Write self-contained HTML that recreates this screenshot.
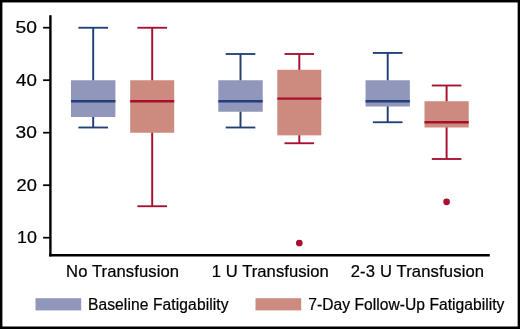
<!DOCTYPE html>
<html>
<head>
<meta charset="utf-8">
<title>Fatigability box plot</title>
<style>
  html, body { margin: 0; padding: 0; background: #ffffff; }
  body { width: 520px; height: 329px; overflow: hidden; }
  svg { display: block; will-change: transform; }
  text { font-family: "Liberation Sans", sans-serif; fill: #000000; stroke: #000000; stroke-width: 0.22px; }
</style>
</head>
<body>
<svg width="520" height="329" viewBox="0 0 520 329">
  <!-- background + outer frame -->
  <rect x="0" y="0" width="520" height="329" fill="#ffffff"/>
  <rect x="0" y="0" width="520" height="2.45" fill="#000"/>
  <rect x="0" y="0" width="2.4" height="329" fill="#000"/>
  <rect x="517.65" y="0" width="2.35" height="329" fill="#000"/>
  <rect x="0" y="326.5" width="520" height="2.5" fill="#000"/>

  <!-- axes -->
  <rect x="49.2" y="15.2" width="2.4" height="241.2" fill="#000"/>
  <rect x="49.2" y="254.0" width="440.6" height="2.5" fill="#000"/>

  <!-- y ticks -->
  <g stroke="#000" stroke-width="1.75">
    <line x1="43.1" x2="50" y1="27.70" y2="27.70"/>
    <line x1="43.1" x2="50" y1="80.20" y2="80.20"/>
    <line x1="43.1" x2="50" y1="132.70" y2="132.70"/>
    <line x1="43.1" x2="50" y1="185.20" y2="185.20"/>
    <line x1="43.1" x2="50" y1="237.70" y2="237.70"/>
  </g>
  <g font-size="16.6" text-anchor="end">
    <text transform="translate(36.9,33.05) scale(1.16,1.03)" x="0" y="0">50</text>
    <text transform="translate(36.9,85.55) scale(1.13,1.03)" x="0" y="0">40</text>
    <text transform="translate(36.9,138.05) scale(1.155,1.03)" x="0" y="0">30</text>
    <text transform="translate(36.9,190.55) scale(1.1,1.03)" x="0" y="0">20</text>
    <text transform="translate(36.9,243.05) scale(1.075,1.03)" x="0" y="0">10</text>
  </g>

  <!-- No Transfusion -->
  <g stroke="#223f78" fill="none">
    <line x1="93.2" x2="93.2" y1="27.75" y2="80.75" stroke-width="1.95"/>
    <line x1="93.2" x2="93.2" y1="116.50" y2="127.50" stroke-width="1.95"/>
    <line x1="78.40" x2="108.00" y1="27.75" y2="27.75" stroke-width="1.85"/>
    <line x1="78.40" x2="108.00" y1="127.50" y2="127.50" stroke-width="1.85"/>
  </g>
  <rect x="71.00" y="80.25" width="44.40" height="36.75" fill="#9097bb"/>
  <line x1="71.00" x2="115.40" y1="101.25" y2="101.25" stroke="#223f78" stroke-width="2.4"/>
  <g stroke="#a80f2e" fill="none">
    <line x1="152.2" x2="152.2" y1="27.75" y2="80.75" stroke-width="1.95"/>
    <line x1="152.2" x2="152.2" y1="132.25" y2="206.25" stroke-width="1.95"/>
    <line x1="137.40" x2="167.00" y1="27.75" y2="27.75" stroke-width="1.85"/>
    <line x1="137.40" x2="167.00" y1="206.25" y2="206.25" stroke-width="1.85"/>
  </g>
  <rect x="130.20" y="80.25" width="44.00" height="52.50" fill="#cd8b7f"/>
  <line x1="130.20" x2="174.20" y1="101.25" y2="101.25" stroke="#a80f2e" stroke-width="2.4"/>
  <!-- 1 U Transfusion -->
  <g stroke="#223f78" fill="none">
    <line x1="240.5" x2="240.5" y1="54.00" y2="80.75" stroke-width="1.95"/>
    <line x1="240.5" x2="240.5" y1="111.25" y2="127.50" stroke-width="1.95"/>
    <line x1="225.70" x2="255.30" y1="54.00" y2="54.00" stroke-width="1.85"/>
    <line x1="225.70" x2="255.30" y1="127.50" y2="127.50" stroke-width="1.85"/>
  </g>
  <rect x="218.30" y="80.25" width="44.40" height="31.50" fill="#9097bb"/>
  <line x1="218.30" x2="262.70" y1="101.25" y2="101.25" stroke="#223f78" stroke-width="2.4"/>
  <g stroke="#a80f2e" fill="none">
    <line x1="299.3" x2="299.3" y1="54.00" y2="70.25" stroke-width="1.95"/>
    <line x1="299.3" x2="299.3" y1="134.88" y2="143.25" stroke-width="1.95"/>
    <line x1="284.50" x2="314.10" y1="54.00" y2="54.00" stroke-width="1.85"/>
    <line x1="284.50" x2="314.10" y1="143.25" y2="143.25" stroke-width="1.85"/>
  </g>
  <rect x="277.30" y="69.75" width="44.00" height="65.62" fill="#cd8b7f"/>
  <line x1="277.30" x2="321.30" y1="98.62" y2="98.62" stroke="#a80f2e" stroke-width="2.4"/>
  <circle cx="299.30" cy="243.00" r="3.35" fill="#a80f2e"/>
  <!-- 2-3 U Transfusion -->
  <g stroke="#223f78" fill="none">
    <line x1="387.7" x2="387.7" y1="52.95" y2="80.75" stroke-width="1.95"/>
    <line x1="387.7" x2="387.7" y1="106.00" y2="122.25" stroke-width="1.95"/>
    <line x1="372.90" x2="402.50" y1="52.95" y2="52.95" stroke-width="1.85"/>
    <line x1="372.90" x2="402.50" y1="122.25" y2="122.25" stroke-width="1.85"/>
  </g>
  <rect x="365.55" y="80.25" width="44.30" height="26.25" fill="#9097bb"/>
  <line x1="365.55" x2="409.85" y1="101.25" y2="101.25" stroke="#223f78" stroke-width="2.4"/>
  <g stroke="#a80f2e" fill="none">
    <line x1="446.6" x2="446.6" y1="85.50" y2="101.75" stroke-width="1.95"/>
    <line x1="446.6" x2="446.6" y1="127.00" y2="159.00" stroke-width="1.95"/>
    <line x1="431.80" x2="461.40" y1="85.50" y2="85.50" stroke-width="1.85"/>
    <line x1="431.80" x2="461.40" y1="159.00" y2="159.00" stroke-width="1.85"/>
  </g>
  <rect x="424.50" y="101.25" width="44.20" height="26.25" fill="#cd8b7f"/>
  <line x1="424.50" x2="468.70" y1="122.25" y2="122.25" stroke="#a80f2e" stroke-width="2.4"/>
  <circle cx="446.60" cy="201.79" r="3.35" fill="#a80f2e"/>

  <!-- x labels -->
  <g font-size="16.6" text-anchor="middle">
    <text x="122.6" y="277" letter-spacing="0.1">No Transfusion</text>
    <text x="270.35" y="277" letter-spacing="0.06">1 U Transfusion</text>
    <text x="417.5" y="277" letter-spacing="0.15">2-3 U Transfusion</text>
  </g>

  <!-- legend -->
  <rect x="35.5" y="298.2" width="45.7" height="12.2" fill="#9097bb"/>
  <text x="87.9" y="309.55" font-size="15.6" letter-spacing="0.1">Baseline Fatigability</text>
  <rect x="255.5" y="298.2" width="45.7" height="12.2" fill="#cd8b7f"/>
  <text x="308.3" y="309.55" font-size="15.6" letter-spacing="0.04">7-Day Follow-Up Fatigability</text>
</svg>
</body>
</html>
